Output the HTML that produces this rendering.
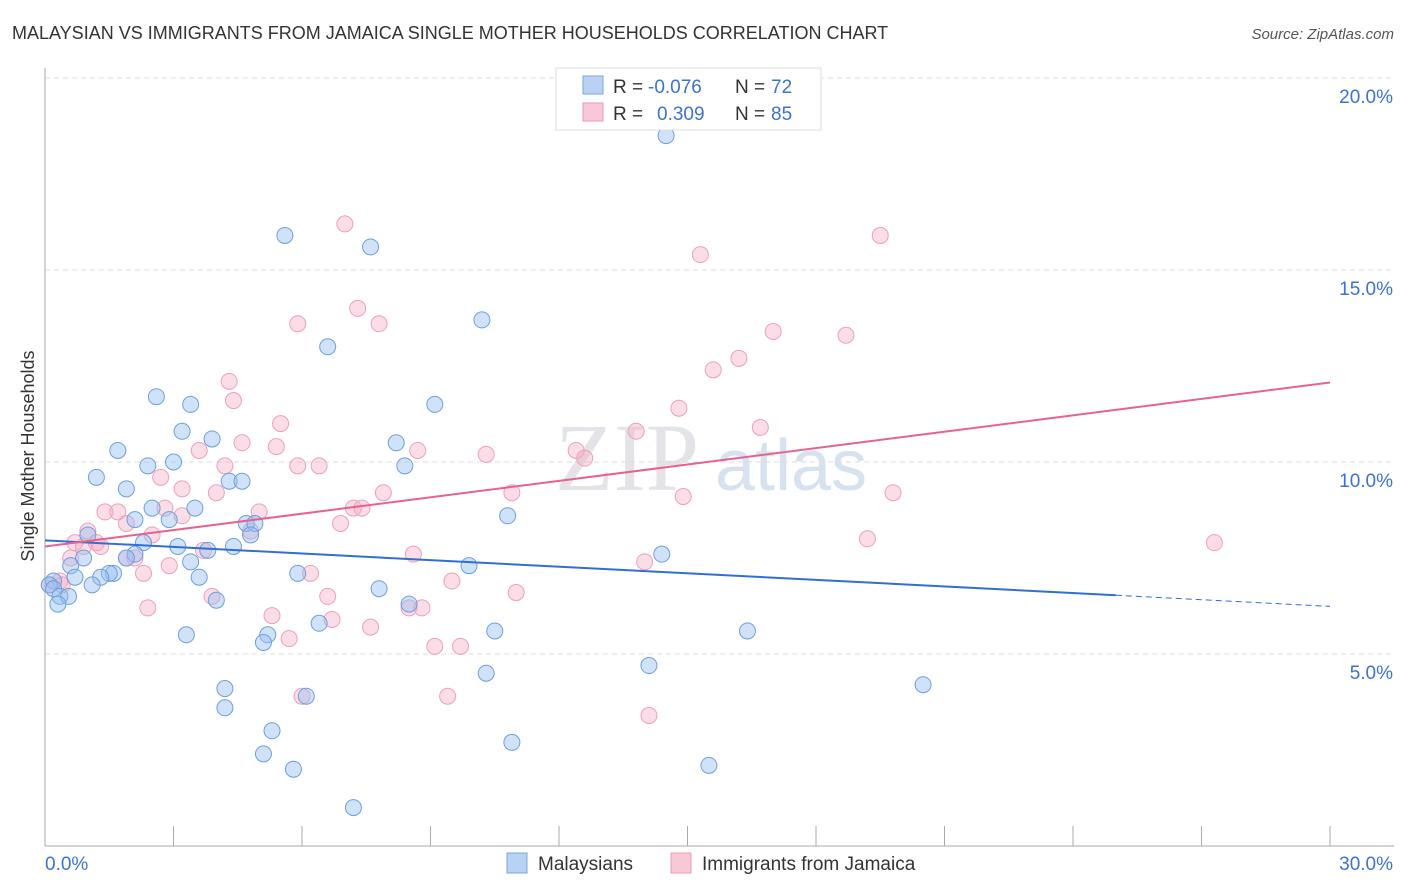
<!DOCTYPE html>
<html><head><meta charset="utf-8">
<style>
body{margin:0;background:#fff;font-family:"Liberation Sans",sans-serif;}
svg{display:block}
</style></head>
<body>
<svg id="chart" width="1406" height="892">
<text x="12" y="39" font-size="18" fill="#333">MALAYSIAN VS IMMIGRANTS FROM JAMAICA SINGLE MOTHER HOUSEHOLDS CORRELATION CHART</text>
<text x="1394" y="39" font-size="15" fill="#555" font-style="italic" text-anchor="end">Source: ZipAtlas.com</text>
<text transform="translate(34,456) rotate(-90)" font-size="18" fill="#333" text-anchor="middle">Single Mother Households</text>
<text x="555" y="490" font-size="96" fill="#e4e4e8" font-family="Liberation Serif,serif">ZIP</text>
<text x="715" y="490" font-size="72" fill="#d6e2f0">atlas</text>
<g id="grid"></g><g id="pts"></g><g id="lines"></g>
<g>
<rect x="556" y="68" width="265" height="62" fill="#fff" stroke="#ddd"/>
<rect x="583" y="76" width="20" height="18" fill="#b8d2f4" stroke="#7aa6e0"/>
<rect x="583" y="103" width="20" height="18" fill="#f9c8d6" stroke="#ee9ab3"/>
<text x="613" y="93" font-size="19" fill="#333">R =</text>
<text x="648" y="93" font-size="19" fill="#3b73d1">-0.076</text>
<text x="735" y="93" font-size="19" fill="#333">N =</text>
<text x="771" y="93" font-size="19" fill="#3b73d1">72</text>
<text x="613" y="120" font-size="19" fill="#333">R =</text>
<text x="657" y="120" font-size="19" fill="#3b73d1">0.309</text>
<text x="735" y="120" font-size="19" fill="#333">N =</text>
<text x="771" y="120" font-size="19" fill="#3b73d1">85</text>
</g>
<g>
<rect x="507" y="853" width="20" height="20" fill="#b8d2f4" stroke="#7aa6e0"/>
<text x="538" y="870" font-size="19" fill="#333">Malaysians</text>
<rect x="671" y="853" width="20" height="20" fill="#f9c8d6" stroke="#ee9ab3"/>
<text x="702" y="870" font-size="19" fill="#333">Immigrants from Jamaica</text>
</g>
</svg>
<script>
const yTicks=[5,10,15,20];
const yTickLabels=["5.0%","10.0%","15.0%","20.0%"];
const xTickLabels=["0.0%","30.0%"];
const blueX=[14.5,5.6,7.6,10.2,6.6,2.6,3.4,9.1,3.2,3.9,8.2,1.7,2.4,3.0,8.4,1.2,1.9,4.3,4.6,2.5,3.5,2.9,4.7,4.9,2.1,10.8,4.8,1.0,2.3,3.1,4.4,3.8,2.1,1.9,0.9,3.4,14.4,9.9,0.6,1.6,1.5,0.7,1.3,5.9,3.6,7.8,1.1,0.2,0.1,0.2,0.35,0.55,0.3,4.0,8.5,6.4,10.5,3.3,5.2,5.1,16.4,14.1,10.3,4.2,20.5,6.1,4.2,5.3,10.9,5.1,15.5,5.8,7.2];
const blueY=[18.5,15.9,15.6,13.7,13.0,11.7,11.5,11.5,10.8,10.6,10.5,10.3,9.9,10.0,9.9,9.6,9.3,9.5,9.5,8.8,8.8,8.5,8.4,8.4,8.5,8.6,8.1,8.1,7.9,7.8,7.8,7.7,7.6,7.5,7.5,7.4,7.6,7.3,7.3,7.1,7.1,7.0,7.0,7.1,7.0,6.7,6.8,6.9,6.8,6.7,6.5,6.5,6.3,6.4,6.3,5.8,5.6,5.5,5.5,5.3,5.6,4.7,4.5,4.1,4.2,3.9,3.6,3.0,2.7,2.4,2.1,2.0,1.0];
const pinkX=[7.0,19.5,15.3,7.3,5.9,7.8,17.0,18.7,16.2,15.6,4.3,4.4,5.5,14.8,13.8,16.7,4.6,5.4,8.7,10.3,3.6,12.4,12.6,4.2,5.9,6.4,2.7,3.2,4.0,7.9,10.9,14.9,19.8,1.4,1.7,5.0,2.8,3.2,6.9,7.2,7.4,1.9,1.0,2.5,4.8,0.7,0.9,1.2,1.3,3.7,19.2,27.3,0.6,1.9,2.1,2.9,8.6,14.0,2.3,6.2,9.5,0.35,0.4,0.1,3.9,6.6,11.0,2.4,8.5,8.8,5.3,6.7,7.6,5.7,9.1,9.7,6.0,9.4,14.1];
const pinkY=[16.2,15.9,15.4,14.0,13.6,13.6,13.4,13.3,12.7,12.4,12.1,11.6,11.0,11.4,10.8,10.9,10.5,10.4,10.3,10.2,10.3,10.3,10.1,9.9,9.9,9.9,9.6,9.3,9.2,9.2,9.2,9.1,9.2,8.7,8.7,8.7,8.8,8.6,8.4,8.8,8.8,8.4,8.2,8.1,8.2,7.9,7.8,7.9,7.8,7.7,8.0,7.9,7.5,7.5,7.5,7.3,7.6,7.4,7.1,7.1,6.9,6.9,6.8,6.8,6.5,6.5,6.6,6.2,6.2,6.2,6.0,5.9,5.7,5.4,5.2,5.2,3.9,3.9,3.4];
const blueTrend=[[0,7.96],[25,6.53],[30,6.24]];
const pinkTrend=[[0,7.8],[30,12.07]];
const ns="http://www.w3.org/2000/svg";
const X0=45,X1=1330,Y0=846,Y20=78;
function xs(v){return X0+(X1-X0)*v/30;}
function ys(v){return Y0-(Y0-Y20)*v/20;}
function mk(tag,attrs,parent){const e=document.createElementNS(ns,tag);for(const k in attrs)e.setAttribute(k,attrs[k]);parent.appendChild(e);return e;}
const grid=document.getElementById('grid');
yTicks.forEach((t,i)=>{
 const l=mk('line',{x1:X0,x2:1394,y1:ys(t),y2:ys(t),stroke:'#ddd','stroke-dasharray':'5,4'},grid);
 
 
 const tx=mk('text',{x:1393,y:ys(t)+25,'font-size':19,fill:'#3b73d1','text-anchor':'end'},grid);
 tx.textContent=yTickLabels[i];
 
 
});
const ax=mk('line',{x1:X0,x2:X0,y1:68,y2:Y0,stroke:'#aaa'},grid);


const bx=mk('line',{x1:X0,x2:1394,y1:Y0,y2:Y0,stroke:'#aaa'},grid);


for(let i=1;i<=10;i++){
 const t=mk('line',{x1:xs(i*3),x2:xs(i*3),y1:826,y2:Y0,stroke:'#aaa'},grid);
 
 
}
[[0,45,'start'],[30,1393,'end']].forEach((d,i)=>{
 const t=mk('text',{x:d[1],y:870,'font-size':19,fill:'#3b73d1','text-anchor':d[2]},grid);
 t.textContent=xTickLabels[i];
 
 
});
const pts=document.getElementById('pts');
pinkX.forEach((v,i)=>{
 const c=mk('circle',{cx:xs(v),cy:ys(pinkY[i]),r:8,fill:'rgba(246,170,195,0.4)',stroke:'#eea0b8','stroke-width':1},pts);
 
 
});
blueX.forEach((v,i)=>{
 const c=mk('circle',{cx:xs(v),cy:ys(blueY[i]),r:8,fill:'rgba(150,190,240,0.45)',stroke:'#6e9fdc','stroke-width':1},pts);
 
 
});
const lines=document.getElementById('lines');
const b1=mk('line',{x1:xs(blueTrend[0][0]),y1:ys(blueTrend[0][1]),x2:xs(blueTrend[1][0]),y2:ys(blueTrend[1][1]),stroke:'#2f6fd6','stroke-width':2},lines);


const b2=mk('line',{x1:xs(blueTrend[1][0]),y1:ys(blueTrend[1][1]),x2:xs(blueTrend[2][0]),y2:ys(blueTrend[2][1]),stroke:'#2f6fd6','stroke-width':1,'stroke-dasharray':'6,4'},lines);


const p1=mk('line',{x1:xs(pinkTrend[0][0]),y1:ys(pinkTrend[0][1]),x2:xs(pinkTrend[1][0]),y2:ys(pinkTrend[1][1]),stroke:'#e8628f','stroke-width':2},lines);


</script>
</body></html>
